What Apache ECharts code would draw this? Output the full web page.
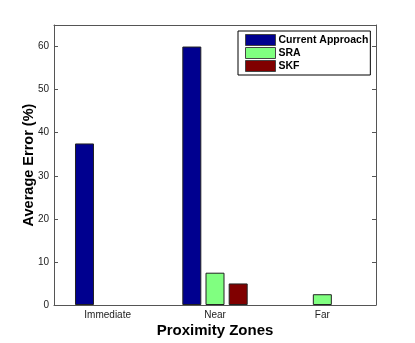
<!DOCTYPE html>
<html>
<head>
<meta charset="utf-8">
<script src="https://cdn.jsdelivr.net/npm/echarts@6/dist/echarts.min.js"></script>
<style>
  html, body { margin: 0; padding: 0; background: #fff; }
  #chart { width: 415px; height: 343px; }
</style>
</head>
<body>
<div id="chart"></div>
<script>
// data
let zones = ['Immediate', 'Near', 'Far'];
let currentApproach = [37.5, 60, null];
let sra = [null, 7.5, 2.5];
let skf = [null, 5, null];
let seriesNames = ['Current Approach', 'SRA', 'SKF'];
let colors = ['#00008f', '#80ff80', '#800000'];

let font = 'Liberation Sans, Arial, Helvetica, sans-serif';
let axisColor = '#555';
let myChart = echarts.init(document.getElementById('chart'));

function barSeries(name, data, i) {
    return {
        name: name,
        type: 'bar',
        data: data,
        barWidth: 19,
        barGap: '22%',
        itemStyle: {
            color: colors[i],
            borderColor: '#222',
            borderWidth: 1
        }
    };
}

let option = {
    animation: false,
    textStyle: { fontFamily: font },
    grid: {
        left: 54,
        right: 39,
        top: 25,
        bottom: 38,
        containLabel: false,
        outerBoundsMode: 'none'
    },
    legend: {
        orient: 'vertical',
        left: 238,
        top: 31,
        icon: 'rect',
        itemWidth: 30,
        itemHeight: 11,
        itemGap: 1,
        padding: [3, 2, 3, 7],
        borderColor: '#000',
        borderWidth: 1,
        backgroundColor: '#fff',
        data: seriesNames,
        textStyle: {
            color: '#000',
            fontFamily: font,
            fontWeight: 'bold',
            fontSize: 10.5,
            padding: [0, 0, 0, -2]
        },
        itemStyle: { borderColor: '#444', borderWidth: 1 }
    },
    xAxis: [{
        type: 'category',
        data: zones,
        name: 'Proximity Zones',
        nameLocation: 'middle',
        nameGap: 18,
        nameMoveOverlap: false,
        nameTextStyle: { fontFamily: font, fontWeight: 'bold', fontSize: 15, color: '#000' },
        axisLine: { onZero: false, lineStyle: { color: axisColor, width: 1 } },
        axisTick: { inside: true, alignWithLabel: true, length: 4, lineStyle: { color: axisColor } },
        axisLabel: { color: '#222', fontSize: 10, margin: 5, fontFamily: font },
        splitLine: { show: false }
    }, {
        type: 'category',
        data: zones,
        position: 'top',
        axisLine: { onZero: false, lineStyle: { color: axisColor, width: 1 } },
        axisTick: { inside: true, alignWithLabel: true, length: 4, lineStyle: { color: axisColor } },
        axisLabel: { show: false },
        splitLine: { show: false }
    }],
    yAxis: [{
        type: 'value',
        min: 0,
        max: 65,
        interval: 10,
        name: 'Average Error (%)',
        nameLocation: 'middle',
        nameGap: 18,
        nameMoveOverlap: false,
        nameTextStyle: { fontFamily: font, fontWeight: 'bold', fontSize: 14.5, color: '#000' },
        axisLine: { show: true, onZero: false, lineStyle: { color: axisColor, width: 1 } },
        axisTick: { show: true, inside: true, length: 4, lineStyle: { color: axisColor } },
        axisLabel: {
            color: '#222', fontSize: 10, margin: 5, fontFamily: font,
            formatter: function (v) { return v % 10 === 0 ? v : ''; }
        },
        splitLine: { show: false }
    }, {
        type: 'value',
        min: 0,
        max: 65,
        interval: 10,
        position: 'right',
        axisLine: { show: true, onZero: false, lineStyle: { color: axisColor, width: 1 } },
        axisTick: { show: true, inside: true, length: 4, lineStyle: { color: axisColor } },
        axisLabel: { show: false },
        splitLine: { show: false }
    }],
    series: [
        barSeries(seriesNames[0], currentApproach, 0),
        barSeries(seriesNames[1], sra, 1),
        barSeries(seriesNames[2], skf, 2)
    ]
};
myChart.setOption(option);
</script>
</body>
</html>
